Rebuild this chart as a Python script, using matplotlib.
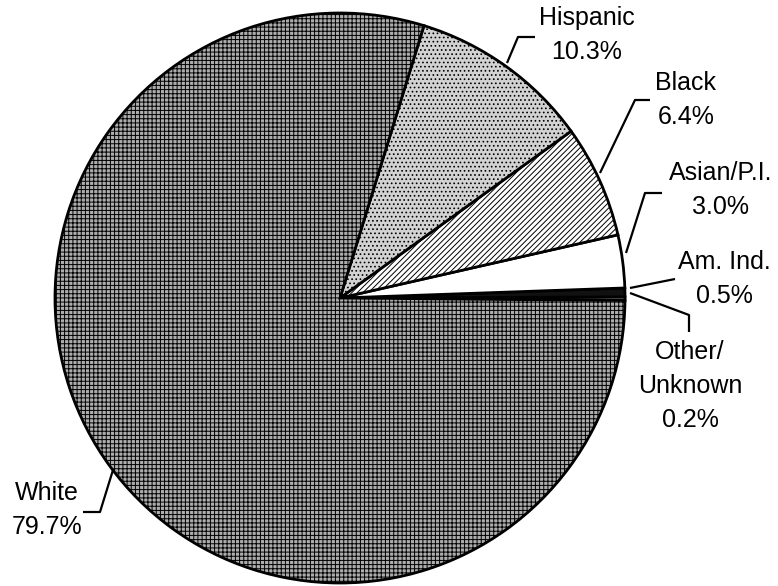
import matplotlib.pyplot as plt

plt.rcParams['font.family'] = ['Liberation Sans', 'DejaVu Sans']
plt.rcParams['hatch.linewidth'] = 0.7

# slices, counter-clockwise from just below 3 o'clock
groups = ['Other/\nUnknown', 'Am. Ind.', 'Asian/P.I.', 'Black', 'Hispanic', 'White']
shares = [0.2, 0.5, 3.0, 6.4, 10.3, 79.7]

colors = ['#9a9a9a', '#111111', 'white', 'white', '#d2d2d2', '#adadad']
hatches = ['....', None, None, '//////', '....', '++++']

H = 586.0
fig = plt.figure(figsize=(7.78, 5.86), dpi=100)
ax = fig.add_axes([0, 0, 1, 1])

cx, cy, r = 340, 298, 285
wedges, _ = ax.pie(shares, colors=colors, startangle=-0.5, counterclock=True,
                   center=(cx, H - cy), radius=r, frame=True,
                   wedgeprops=dict(edgecolor='black', linewidth=2))
for w, h in zip(wedges, hatches):
    if h:
        w.set_hatch(h)
ax.set_xlim(0, 778)
ax.set_ylim(0, H)
ax.set_aspect('equal')
ax.axis('off')

# label centres and leader lines in pixel coords (y down)
label_pos = [(690, 386), (724, 279), (721, 190), (686, 100), (587, 35), (47, 510)]
leaders = [
    [(630, 293), (689, 315), (689, 332)],
    [(630, 288), (675, 279)],
    [(626, 253), (645, 193), (662, 193)],
    [(600, 173), (635, 100), (650, 100)],
    [(507, 63), (518, 37), (535, 37)],
    [(113, 470), (100, 512), (83, 512)],
]

for g, s, (x, y), pts in zip(groups, shares, label_pos, leaders):
    ax.text(x, H - y, f'{g}\n{s}%', ha='center', va='center',
            fontsize=18, linespacing=1.55)
    xs = [p[0] for p in pts]
    ys = [H - p[1] for p in pts]
    ax.plot(xs, ys, color='black', lw=1.6, solid_capstyle='butt')

fig.savefig('out.png', dpi=100)
